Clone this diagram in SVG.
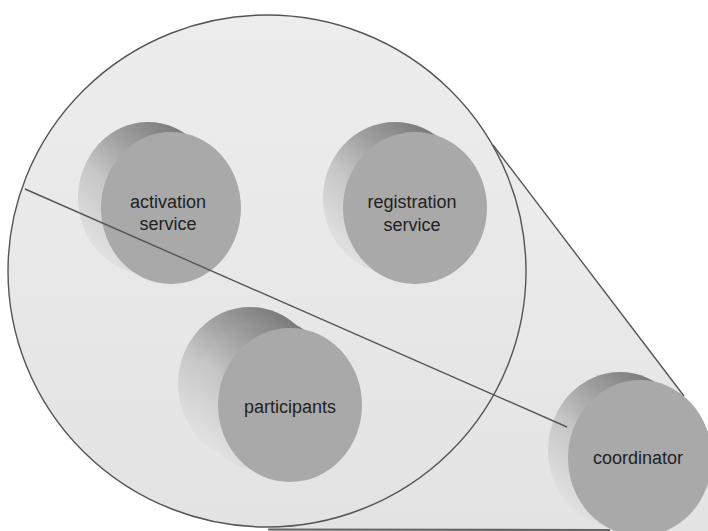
<svg xmlns="http://www.w3.org/2000/svg" width="708" height="531" viewBox="0 0 708 531">
<defs>
<linearGradient id="side" x1="0.65" y1="0" x2="0" y2="0.75">
<stop offset="0" stop-color="#7c7c7c"/>
<stop offset="0.3" stop-color="#9e9e9e"/>
<stop offset="0.6" stop-color="#c6c6c6"/>
<stop offset="1" stop-color="#e2e2e2"/>
</linearGradient>
<linearGradient id="bg" x1="0" y1="0" x2="0" y2="1">
<stop offset="0" stop-color="#ededed"/>
<stop offset="1" stop-color="#e3e3e3"/>
</linearGradient>
<style>
.side{fill:url(#side);}
.face{fill:#a9a9a9;}
.lbl{font-family:"Liberation Sans",Arial,sans-serif;font-size:18px;fill:#222;text-anchor:middle;}
.edge{fill:none;stroke:#555;stroke-width:1.4;}
</style>
</defs>
<rect width="708" height="531" fill="#fff"/>
<g id="domain">
<polygon points="493,145 684,396 708,440 708,531 270,531 267,271" fill="url(#bg)"/>
<ellipse cx="267" cy="271" rx="259" ry="256" fill="url(#bg)"/>
<line class="edge" x1="493" y1="145" x2="684" y2="396"/>
<line x1="268" y1="529.5" x2="610" y2="530" stroke="#666" stroke-width="2.2"/>
<ellipse class="edge" cx="267" cy="271" rx="259" ry="256"/>
</g>
<g id="activation">
<ellipse class="side" cx="148" cy="198" rx="70" ry="76"/>
<ellipse class="face" cx="171" cy="208" rx="70" ry="76"/>
<text class="lbl" x="168" y="208">activation</text>
<text class="lbl" x="168" y="230">service</text>
</g>
<g id="registration">
<ellipse class="side" cx="395" cy="198" rx="72" ry="76"/>
<ellipse class="face" cx="415" cy="208" rx="72" ry="76"/>
<text class="lbl" x="412" y="208">registration</text>
<text class="lbl" x="412" y="231">service</text>
</g>
<g id="participants">
<ellipse class="side" cx="250" cy="384" rx="72" ry="77"/>
<ellipse class="side" cx="266" cy="395" rx="72" ry="77"/>
<ellipse class="face" cx="290" cy="405" rx="72" ry="77"/>
<text class="lbl" x="290" y="413">participants</text>
</g>
<g id="coordinator">
<ellipse class="side" cx="620" cy="450" rx="72" ry="78"/>
<ellipse class="face" cx="640" cy="458" rx="72" ry="78"/>
<text class="lbl" x="638" y="464">coordinator</text>
</g>
<g id="connectors">
<line class="edge" x1="25" y1="189" x2="567" y2="427"/>
</g>
</svg>
